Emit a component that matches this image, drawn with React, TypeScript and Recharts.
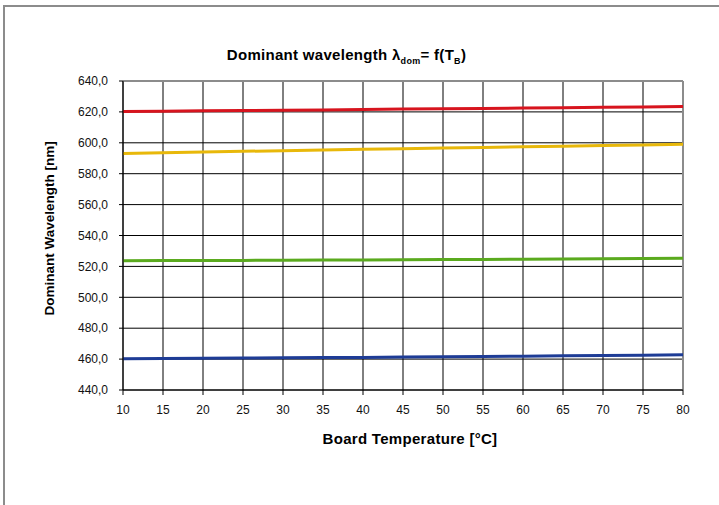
import React from 'react';
import { LineChart, Line, XAxis, YAxis, CartesianGrid, ReferenceLine } from 'recharts';

const temps = [10, 15, 20, 25, 30, 35, 40, 45, 50, 55, 60, 65, 70, 75, 80];
const red = [620.3, 620.5, 620.7, 620.9, 621.1, 621.3, 621.5, 621.8, 622.0, 622.2, 622.5, 622.7, 623.0, 623.2, 623.5];
const yellow = [593.0, 593.5, 594.0, 594.5, 594.9, 595.4, 595.8, 596.2, 596.6, 597.0, 597.4, 597.8, 598.2, 598.6, 599.0];
const green = [523.7, 523.8, 523.8, 523.9, 524.0, 524.1, 524.2, 524.3, 524.4, 524.5, 524.6, 524.8, 524.9, 525.1, 525.3];
const blue = [460.3, 460.4, 460.5, 460.7, 460.8, 461.0, 461.1, 461.3, 461.5, 461.7, 461.9, 462.1, 462.3, 462.5, 462.8];
const yTicks = [440, 460, 480, 500, 520, 540, 560, 580, 600, 620, 640];

const data = temps.map((t, i) => ({ t, red: red[i], yellow: yellow[i], green: green[i], blue: blue[i] }));

const font = 'Arial, "Liberation Sans", sans-serif';

export default function App() {
  return (
    <div style={{ position: 'absolute', left: 0, top: 0, width: 719, height: 505, background: '#fff', fontFamily: font, overflow: 'hidden' }}>
      <div style={{ position: 'absolute', left: 3, top: 5, width: 760, height: 560, borderLeft: '2px solid #8c8c8c', borderTop: '2px solid #8c8c8c' }} />
      <div style={{ position: 'absolute', left: -13, width: 719, top: 46, textAlign: 'center', fontWeight: 'bold', fontSize: 15, color: '#000', letterSpacing: 0.3 }}>
        Dominant wavelength λ<sub style={{ fontSize: 9 }}>dom</sub>= f(T<sub style={{ fontSize: 9 }}>B</sub>)
      </div>
      <LineChart width={719} height={505} data={data} margin={{ top: 81, right: 36, bottom: 85, left: 63 }}
        style={{ position: 'absolute', left: 0, top: 0 }}>
        <CartesianGrid stroke="#000" strokeWidth={1} verticalValues={temps} horizontalValues={yTicks} />
        <XAxis dataKey="t" type="number" domain={[10, 80]} ticks={temps} stroke="#000" tickSize={5} tickMargin={10}
          tick={{ fill: '#111', fontSize: 12, fontFamily: font }} height={30}
          label={{ value: 'Board Temperature [°C]', position: 'insideBottom', offset: -24, fill: '#000', fontSize: 15, fontWeight: 'bold', fontFamily: font, dx: 7, letterSpacing: 0.3 }} />
        <YAxis type="number" domain={[440, 640]} ticks={yTicks} stroke="#000" tickSize={4} tickMargin={11} width={60}
          tickFormatter={(v: number) => v.toFixed(1).replace('.', ',')}
          tick={{ fill: '#111', fontSize: 12, fontFamily: font }}
          label={{ value: 'Dominant Wavelength [nm]', angle: -90, position: 'insideLeft', offset: -14, fill: '#000', fontSize: 13.5, fontWeight: 'bold', fontFamily: font, dy: 80 }} />
        <ReferenceLine y={640} stroke="#8c8c8c" strokeWidth={2} />
        <ReferenceLine x={80} stroke="#8c8c8c" strokeWidth={2} />
        <Line dataKey="red" stroke="#d7141e" strokeWidth={3} dot={false} isAnimationActive={false} />
        <Line dataKey="yellow" stroke="#e8b80a" strokeWidth={3} dot={false} isAnimationActive={false} />
        <Line dataKey="green" stroke="#5aaa1e" strokeWidth={3} dot={false} isAnimationActive={false} />
        <Line dataKey="blue" stroke="#1e3c96" strokeWidth={3} dot={false} isAnimationActive={false} />
      </LineChart>
    </div>
  );
}
